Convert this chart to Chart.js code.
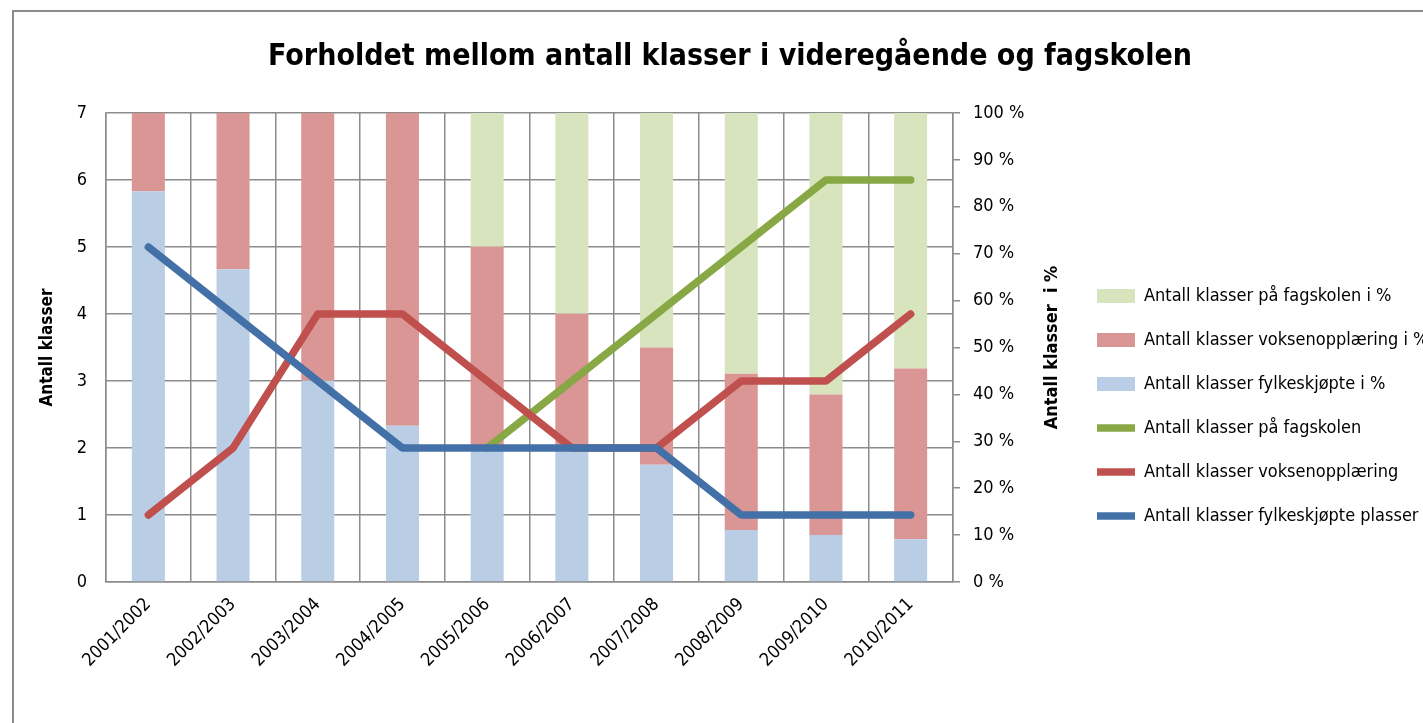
<!DOCTYPE html>
<html>
<head>
<meta charset="utf-8">
<script src="https://cdn.jsdelivr.net/npm/chart.js@4/dist/chart.umd.min.js"></script>
<style>
  html, body { margin: 0; padding: 0; background: #fff; overflow: hidden; }
  #frame { position: absolute; left: 12px; top: 10px; border: 2px solid #8c8c8c; width: 1432px; height: 788px; }
  #chart { display: block; }
</style>
</head>
<body>
<div id="frame"><canvas id="chart" width="1432" height="788"></canvas></div>
<script>
const FONT = "'Liberation Sans Narrow', 'Arial Narrow', 'DejaVu Sans Condensed', sans-serif";

const years = ["2001/2002", "2002/2003", "2003/2004", "2004/2005", "2005/2006",
               "2006/2007", "2007/2008", "2008/2009", "2009/2010", "2010/2011"];

// andeler i prosent (hoyre akse)
const pctFylke = [83.3, 66.7, 42.9, 33.3, 28.6, 28.6, 25.0, 11.1, 10.0, 9.1];
const pctVoksen = [16.7, 33.3, 57.1, 66.7, 42.9, 28.6, 25.0, 33.3, 30.0, 36.4];
const pctFagskole = [0, 0, 0, 0, 28.6, 42.9, 50.0, 55.6, 60.0, 54.5];

// antall klasser (venstre akse)
const antFylke = [5, 4, 3, 2, 2, 2, 2, 1, 1, 1];
const antVoksen = [1, 2, 4, 4, 3, 2, 2, 3, 3, 4];
const antFagskole = [null, null, null, null, 2, 3, 4, 5, 6, 6];

const legendOrder = [2, 1, 0, 5, 4, 3];

const gridGray = "#8c8c8c";

// fixed legend width + right axis title reading upwards, like the left one
const rightTitle = {
  id: "rightTitle",
  beforeLayout(chart) {
    const lg = chart.legend;
    if (lg && !lg.fixedFit) {
      const fit = lg.fit;
      lg.fit = function () { fit.call(this); this.width = 375; };
      lg.fixedFit = true;
    }
  },
  afterDraw(chart) {
    const s = chart.scales.y1;
    const ctx = chart.ctx;
    ctx.save();
    ctx.translate(s.right - 19, (s.top + s.bottom) / 2);
    ctx.rotate(-Math.PI / 2);
    ctx.font = "bold 18px " + FONT;
    ctx.fillStyle = "#000";
    ctx.textAlign = "center";
    ctx.textBaseline = "middle";
    ctx.fillText("Antall klasser  i %", 0, 0);
    ctx.restore();
  }
};

Chart.defaults.color = "#000";
Chart.defaults.font.family = FONT;

new Chart(document.getElementById("chart").getContext("2d"), {
  data: {
    labels: years,
    datasets: [
      { type: "bar", label: "Antall klasser fylkeskjøpte i %", data: pctFylke, yAxisID: "y1",
        backgroundColor: "#B9CDE5", order: 1, pointStyle: "rect" },
      { type: "bar", label: "Antall klasser voksenopplæring i %", data: pctVoksen, yAxisID: "y1",
        backgroundColor: "#D99694", order: 1, pointStyle: "rect" },
      { type: "bar", label: "Antall klasser på fagskolen i %", data: pctFagskole, yAxisID: "y1",
        backgroundColor: "#D7E4BD", order: 1, pointStyle: "rect" },
      { type: "line", label: "Antall klasser fylkeskjøpte plasser", data: antFylke, yAxisID: "y",
        borderColor: "#4470A8", backgroundColor: "#4470A8", borderWidth: 7.5, pointRadius: 0,
        borderCapStyle: "round", borderJoinStyle: "round", order: 0, pointStyle: "line" },
      { type: "line", label: "Antall klasser voksenopplæring", data: antVoksen, yAxisID: "y",
        borderColor: "#C0504D", backgroundColor: "#C0504D", borderWidth: 7.5, pointRadius: 0,
        borderCapStyle: "round", borderJoinStyle: "round", order: 0, pointStyle: "line" },
      { type: "line", label: "Antall klasser på fagskolen", data: antFagskole, yAxisID: "y",
        borderColor: "#87A845", backgroundColor: "#87A845", borderWidth: 7.5, pointRadius: 0,
        borderCapStyle: "round", borderJoinStyle: "round", order: 0, pointStyle: "line" }
    ]
  },
  options: {
    responsive: false,
    animation: false,
    layout: { padding: 0 },
    datasets: { bar: { barPercentage: 0.39, categoryPercentage: 1 } },
    scales: {
      x: {
        stacked: true,
        offset: true,
        afterFit: (s) => { s.height = 218; },
        grid: { offset: true, color: gridGray, lineWidth: 1.5, drawTicks: false },
        border: { color: gridGray, width: 1.5 },
        ticks: { minRotation: 45, maxRotation: 45, padding: 12, font: { size: 18 } }
      },
      y: {
        position: "left",
        min: 0, max: 7,
        afterFit: (s) => { s.width = 92; },
        ticks: { stepSize: 1, padding: 19, font: { size: 18 } },
        grid: { color: gridGray, lineWidth: 1.5, drawTicks: false },
        border: { color: gridGray, width: 1.5 },
        title: { display: true, text: "Antall klasser", font: { size: 17, weight: "bold" }, padding: { top: 23, bottom: 0 } }
      },
      y1: {
        position: "right",
        stacked: true,
        min: 0, max: 100,
        afterFit: (s) => { s.width = 118; },
        ticks: { stepSize: 10, padding: 13, font: { size: 18 }, callback: (v) => v + " %" },
        grid: { drawOnChartArea: false, color: gridGray, lineWidth: 1.5, tickLength: 7 },
        border: { color: gridGray, width: 1.5 }
      }
    },
    plugins: {
      title: {
        display: true,
        text: "Forholdet mellom antall klasser i videregående og fagskolen",
        font: { size: 30, weight: "bold" },
        color: "#000",
        padding: { top: 27, bottom: 38 }
      },
      legend: {
        position: "right",
        labels: {
          usePointStyle: true,
          pointStyleWidth: 38,
          boxHeight: 14,
          padding: 26,
          font: { size: 18 },
          sort: (a, b) => legendOrder.indexOf(a.datasetIndex) - legendOrder.indexOf(b.datasetIndex)
        }
      },
      tooltip: { enabled: false }
    }
  },
  plugins: [rightTitle]
});
</script>
</body>
</html>
